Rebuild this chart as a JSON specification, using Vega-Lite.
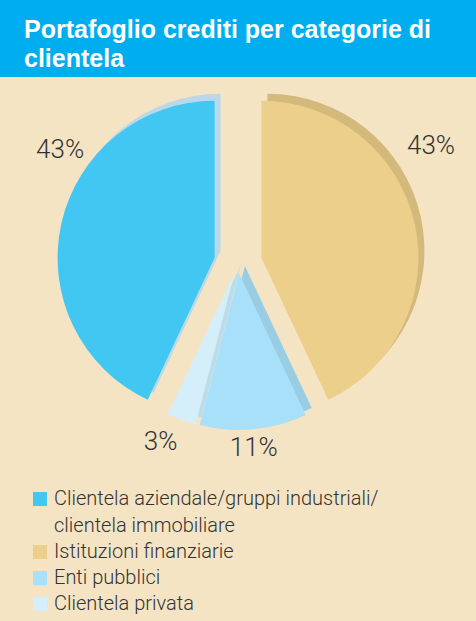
{
  "$schema": "https://vega.github.io/schema/vega-lite/v6.json",
  "width": 476,
  "height": 621,
  "autosize": {"type": "fit", "contains": "padding"},
  "padding": {"top": 18, "left": 0, "right": 0, "bottom": 0},
  "background": "#00aeef",
  "view": {"fill": "#f4e4c4", "stroke": null},
  "title": {
    "text": ["Portafoglio crediti per categorie di", "clientela"],
    "anchor": "start",
    "frame": "group",
    "dx": 24,
    "fontSize": 25,
    "font": "Liberation Sans",
    "fontWeight": "bold",
    "color": "#ffffff",
    "lineHeight": 29,
    "offset": 5
  },
  "config": {"view": {"fill": "#f4e4c4", "stroke": null}},
  "data": {
    "values": [
      {"cat": "Istituzioni finanziarie", "share": 0.43, "ord": 1},
      {"cat": "Enti pubblici", "share": 0.11, "ord": 2},
      {"cat": "Clientela privata", "share": 0.03, "ord": 3},
      {"cat": "Clientela aziendale/gruppi industriali/clientela immobiliare", "share": 0.43, "ord": 4}
    ]
  },
  "encoding": {
    "theta": {"field": "share", "type": "quantitative", "stack": true},
    "order": {"field": "ord", "type": "quantitative"}
  },
  "layer": [
    {
      "mark": {
        "type": "arc",
        "radius": 157,
        "xOffset": {"expr": "6 + (datum.share > 0.2 ? 24 : 10) * sin(PI * (datum.share_start + datum.share_end))"},
        "yOffset": {"expr": "-93 - (datum.share > 0.2 ? 24 : 10) * cos(PI * (datum.share_start + datum.share_end))"}
      },
      "encoding": {
        "color": {
          "field": "cat",
          "type": "nominal",
          "scale": {
            "domain": ["Clientela aziendale/gruppi industriali/clientela immobiliare", "Istituzioni finanziarie", "Enti pubblici", "Clientela privata"],
            "range": ["#b9d9e8", "#d4b97c", "#98cde4", "#bcdcea"]
          },
          "legend": null
        }
      }
    },
    {
      "mark": {
        "type": "arc",
        "radius": 157,
        "xOffset": {"expr": "(datum.share > 0.2 ? 24 : 10) * sin(PI * (datum.share_start + datum.share_end))"},
        "yOffset": {"expr": "-86 - (datum.share > 0.2 ? 24 : 10) * cos(PI * (datum.share_start + datum.share_end))"}
      },
      "encoding": {
        "color": {
          "field": "cat",
          "type": "nominal",
          "scale": {
            "domain": ["Clientela aziendale/gruppi industriali/clientela immobiliare", "Istituzioni finanziarie", "Enti pubblici", "Clientela privata"],
            "range": ["#42c6f2", "#edcf8c", "#a9e0f9", "#d5effa"]
          },
          "legend": {
            "title": null,
            "orient": "none",
            "legendX": 30,
            "legendY": 412,
            "symbolType": "square",
            "symbolSize": 196,
            "symbolStrokeWidth": 0,
            "labelFont": "Roboto",
            "labelFontWeight": 300,
            "labelFontSize": 20,
            "labelColor": "#333333",
            "labelLimit": 500,
            "rowPadding": 6,
            "labelExpr": "datum.label == 'Clientela aziendale/gruppi industriali/clientela immobiliare' ? ['Clientela aziendale/gruppi industriali/', 'clientela immobiliare'] : datum.label",
            "encode": {"labels": {"update": {"lineHeight": {"value": 27}}}}
          }
        }
      }
    },
    {
      "mark": {
        "type": "text",
        "font": "Roboto",
        "fontWeight": 300,
        "fontSize": 26,
        "color": "#333333",
        "align": "center",
        "baseline": "middle",
        "yOffset": -87,
        "thetaOffset": {"expr": "datum.cat == 'Istituzioni finanziarie' ? -0.32 : datum.cat == 'Clientela privata' ? 0.06 : datum.cat == 'Enti pubblici' ? 0.01 : 0.34"},
        "radiusOffset": {"expr": "datum.cat == 'Istituzioni finanziarie' ? 20 : datum.cat == 'Clientela privata' ? -9 : datum.cat == 'Enti pubblici' ? -18 : 5"}
      },
      "encoding": {
        "text": {"field": "share", "type": "quantitative", "format": ".0%"},
        "radius": {"value": 205}
      }
    }
  ],
  "resolve": {"scale": {"color": "independent"}}
}
